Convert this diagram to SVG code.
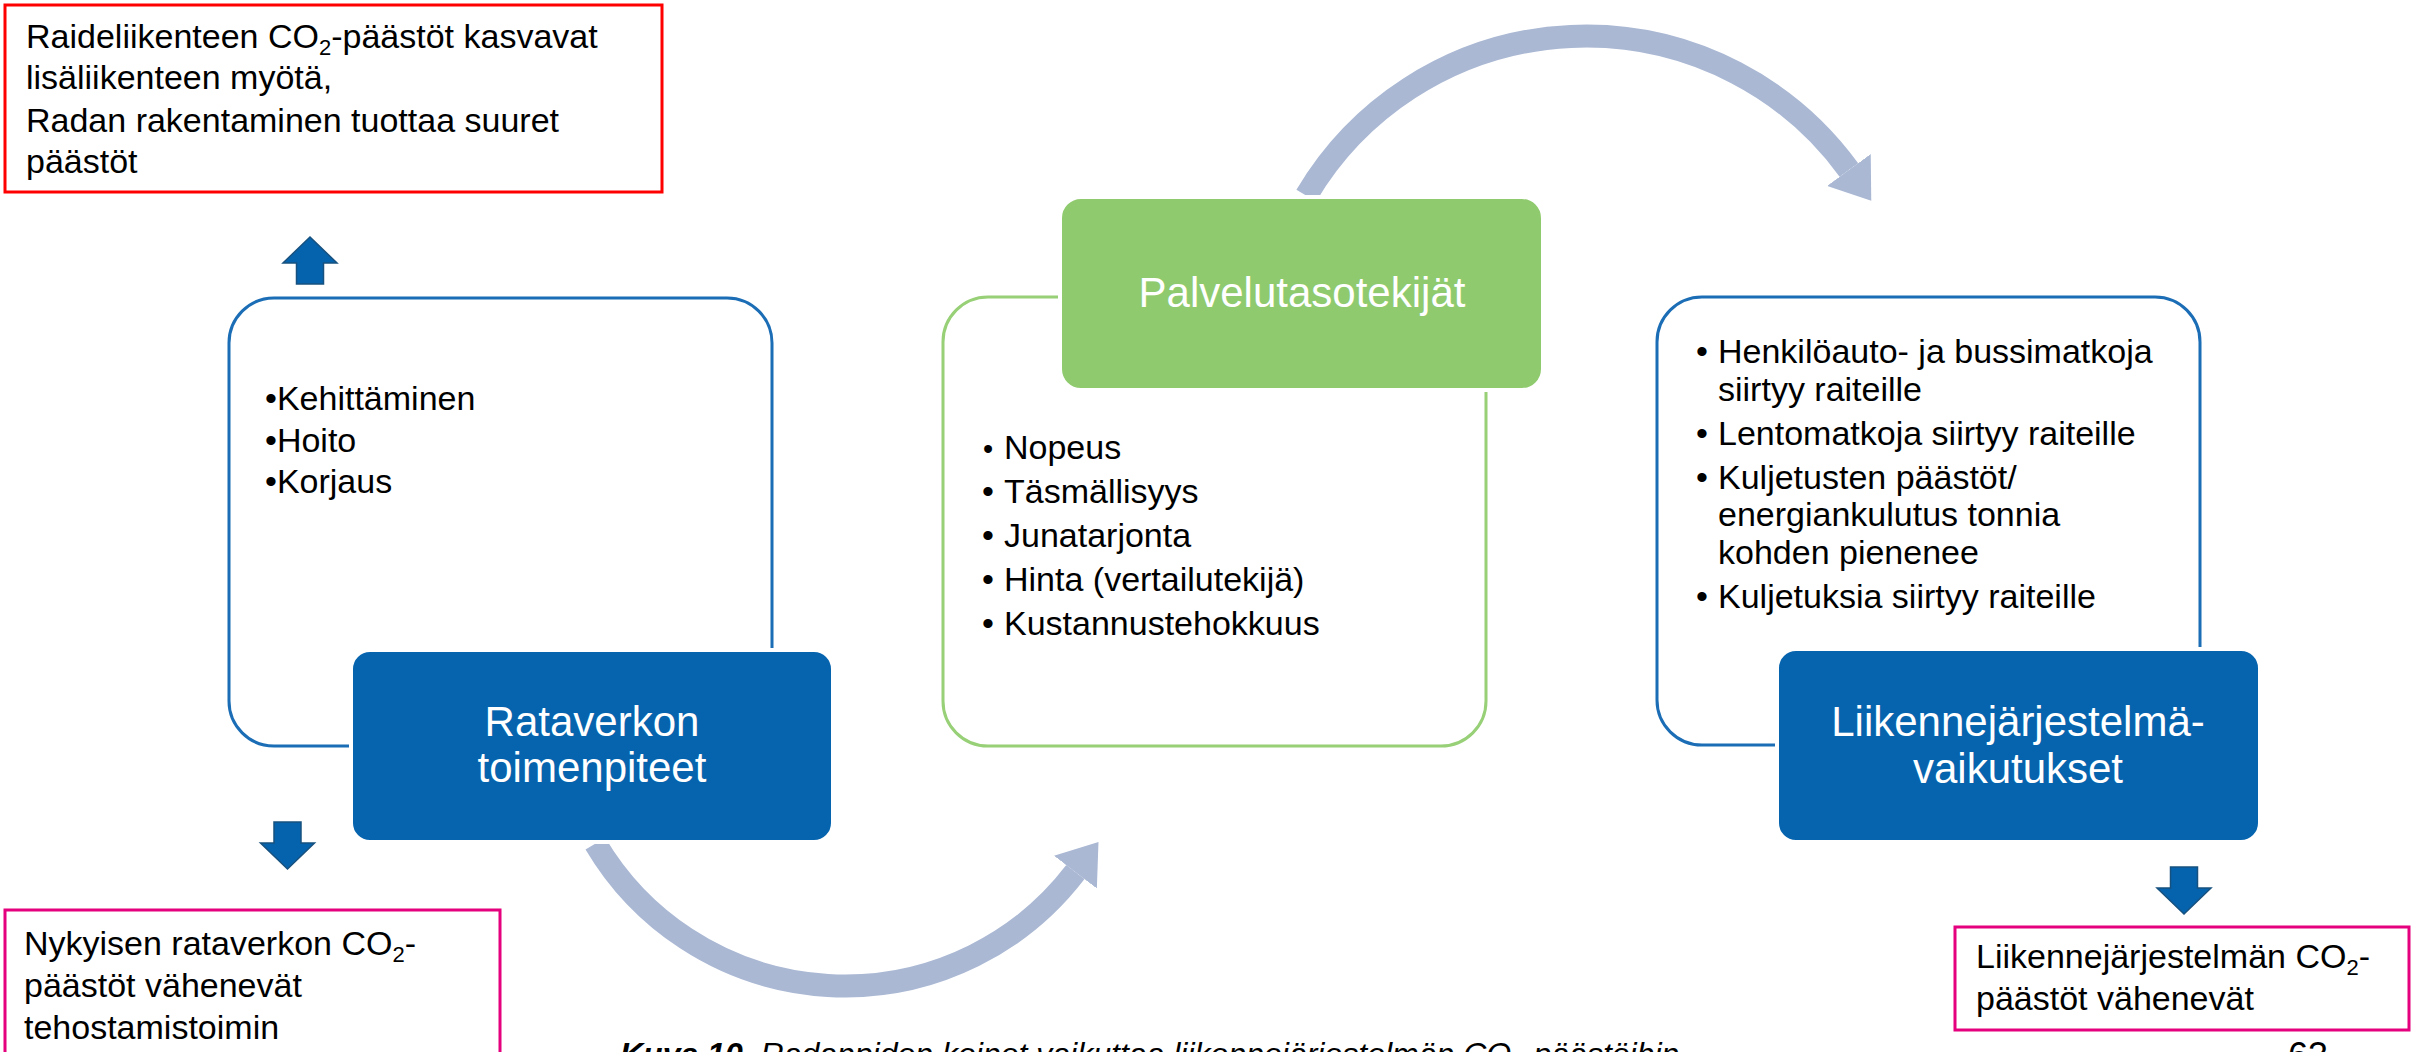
<svg xmlns="http://www.w3.org/2000/svg" width="2420" height="1052" viewBox="0 0 2420 1052">
  <style>
    .txt { font-family: "Liberation Sans", Arial, sans-serif; fill: #000; }
    .body { font-size: 34px; }
    .title { font-size: 42px; fill: #fff; text-anchor: middle; }
    .filled-blue { fill: #0664AE; stroke: #fff; stroke-width: 4; }
    .outline-blue { fill: #fff; stroke: #1B6DB5; stroke-width: 3; }
    .filled-green { fill: #8FCB6E; stroke: #fff; stroke-width: 4; }
    .outline-green { fill: #fff; stroke: #97D076; stroke-width: 3; }
    .arc { fill: none; stroke: #AAB8D4; stroke-width: 23; marker-end: url(#head); }
    .block { fill: #0563AD; stroke: #17517F; stroke-width: 1.5; }
    .note-red { fill: #fff; stroke: #FF0000; stroke-width: 3; }
    .note-pink { fill: #fff; stroke: #E5007D; stroke-width: 3; }
  </style>
  <defs>
    <marker id="head" markerUnits="userSpaceOnUse" markerWidth="38" markerHeight="54" viewBox="0 0 38 54" refX="0" refY="27" orient="auto">
      <path d="M0,0 L38,27 L0,54 z" fill="#AAB8D4"/>
    </marker>
    <!-- block arrow pointing down, origin at the top centre of the shaft -->
    <path id="blockArrow" d="M-13.5,0 H13.5 V21 H27 L0,47 L-27,21 H-13.5 Z"/>
  </defs>

  <rect width="2420" height="1052" fill="#fff"/>

  <!-- connectors: curved flow arrows and block arrows to the notes -->
  <g id="connectors">
    <path class="arc" d="M595.4,843.6 A290,290 0 0 0 1075.4,872.1"/>
    <path class="arc" d="M1306.3,195.6 A325,325 0 0 1 1848.9,170.0"/>
    <use href="#blockArrow" class="block" transform="translate(310,284) rotate(180)"/>
    <use href="#blockArrow" class="block" transform="translate(287.5,822)"/>
    <use href="#blockArrow" class="block" transform="translate(2184,867)"/>
  </g>

  <!-- note: emissions increase -->
  <g id="note-increase">
    <rect class="note-red" x="5" y="5" width="657" height="187"/>
    <text class="txt body" x="26" y="48">Raideliikenteen CO<tspan font-size="22" dy="7">2</tspan><tspan dy="-7">-päästöt kasvavat</tspan></text>
    <text class="txt body" x="26" y="89">lisäliikenteen myötä,</text>
    <text class="txt body" x="26" y="132">Radan rakentaminen tuottaa suuret</text>
    <text class="txt body" x="26" y="173">päästöt</text>
  </g>

  <!-- node: rail network measures -->
  <g id="node-rataverkko">
    <rect class="outline-blue" x="229" y="298" width="543" height="448" rx="45"/>
    <text class="txt body" x="265" y="410">•Kehittäminen</text>
    <text class="txt body" x="265" y="452">•Hoito</text>
    <text class="txt body" x="265" y="493">•Korjaus</text>
    <rect class="filled-blue" x="351" y="650" width="482" height="192" rx="19"/>
    <text class="txt title" x="592" y="736">Rataverkon</text>
    <text class="txt title" x="592" y="782">toimenpiteet</text>
  </g>

  <!-- node: service level factors -->
  <g id="node-palvelutaso">
    <rect class="outline-green" x="943" y="297" width="543" height="449" rx="45"/>
    <rect class="filled-green" x="1060" y="197" width="483" height="193" rx="21"/>
    <text class="txt title" x="1302" y="307">Palvelutasotekijät</text>
    <text class="txt body" y="459"><tspan x="983" font-size="29">•</tspan><tspan x="1004">Nopeus</tspan></text>
    <text class="txt body" y="503"><tspan x="982">•</tspan><tspan x="1004">Täsmällisyys</tspan></text>
    <text class="txt body" y="547"><tspan x="982">•</tspan><tspan x="1004">Junatarjonta</tspan></text>
    <text class="txt body" y="591"><tspan x="982">•</tspan><tspan x="1004">Hinta (vertailutekijä)</tspan></text>
    <text class="txt body" y="635"><tspan x="982">•</tspan><tspan x="1004">Kustannustehokkuus</tspan></text>
  </g>

  <!-- node: transport system effects -->
  <g id="node-liikennejarjestelma">
    <rect class="outline-blue" x="1657" y="297" width="543" height="448" rx="45"/>
    <text class="txt body" y="363"><tspan x="1696">•</tspan><tspan x="1718">Henkilöauto- ja bussimatkoja</tspan></text>
    <text class="txt body" x="1718" y="401">siirtyy raiteille</text>
    <text class="txt body" y="445"><tspan x="1696">•</tspan><tspan x="1718">Lentomatkoja siirtyy raiteille</tspan></text>
    <text class="txt body" y="489"><tspan x="1696">•</tspan><tspan x="1718">Kuljetusten päästöt/</tspan></text>
    <text class="txt body" x="1718" y="526">energiankulutus tonnia</text>
    <text class="txt body" x="1718" y="564">kohden pienenee</text>
    <text class="txt body" y="608"><tspan x="1696">•</tspan><tspan x="1718">Kuljetuksia siirtyy raiteille</tspan></text>
    <rect class="filled-blue" x="1777" y="649" width="483" height="193" rx="19"/>
    <text class="txt title" x="2018" y="736">Liikennejärjestelmä-</text>
    <text class="txt title" x="2018" y="783">vaikutukset</text>
  </g>

  <!-- note: emissions of the existing network decrease -->
  <g id="note-network-decrease">
    <rect class="note-pink" x="5" y="910" width="495" height="170"/>
    <text class="txt body" x="24" y="955">Nykyisen rataverkon CO<tspan font-size="22" dy="7">2</tspan><tspan dy="-7">-</tspan></text>
    <text class="txt body" x="24" y="997">päästöt vähenevät</text>
    <text class="txt body" x="24" y="1039">tehostamistoimin</text>
  </g>

  <!-- note: transport system emissions decrease -->
  <g id="note-system-decrease">
    <rect class="note-pink" x="1955" y="927" width="454" height="103"/>
    <text class="txt body" x="1976" y="968">Liikennejärjestelmän CO<tspan font-size="22" dy="7">2</tspan><tspan dy="-7">-</tspan></text>
    <text class="txt body" x="1976" y="1010">päästöt vähenevät</text>
  </g>

  <!-- figure caption and page number -->
  <text class="txt" x="620" y="1065" font-size="32" font-style="italic"><tspan font-weight="bold">Kuva 10.</tspan> Radanpidon keinot vaikuttaa liikennejärjestelmän CO<tspan font-size="21" dy="6">2</tspan><tspan dy="-6">-päästöihin</tspan></text>
  <text class="txt" x="2288" y="1068" font-size="36" fill="#8F8F8F">63</text>
</svg>
